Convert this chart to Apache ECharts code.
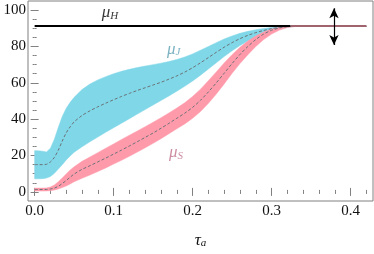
<!DOCTYPE html>
<html><head><meta charset="utf-8">
<script src="https://cdn.jsdelivr.net/npm/echarts@6/dist/echarts.min.js"></script>
<style>html,body{margin:0;padding:0;background:#fff}#c{width:374px;height:254px}</style>
</head><body><div id="c"></div>
<script>
// ---- data ----
const tau = [0, 0.005, 0.01, 0.015, 0.02, 0.025, 0.03, 0.035, 0.04, 0.045, 0.05, 0.06, 0.07, 0.08, 0.09, 0.10, 0.11, 0.12, 0.13, 0.14, 0.15, 0.16, 0.17, 0.18, 0.19, 0.20, 0.21, 0.22, 0.23, 0.24, 0.25, 0.26, 0.27, 0.28, 0.29, 0.30, 0.31, 0.32, 0.33, 0.42];
const muJLo  = [7.2, 7.2, 7.3, 7.6, 8.5, 10.2, 12.6, 15, 17.6, 19.8, 21.8, 24.8, 27.6, 30.2, 32.8, 35.3, 37.8, 40.3, 42.8, 45.3, 47.8, 50.3, 52.8, 55.4, 58.1, 61, 64.2, 67.6, 71, 74.5, 77.6, 80.5, 83, 85.2, 87, 88.5, 89.7, 90.5, 91, 91.1];
const muJMid = [15, 15, 15, 15.2, 16.5, 19, 23, 28, 32.5, 35.8, 38.5, 42, 44.6, 46.8, 48.8, 50.7, 52.5, 54.2, 55.8, 57.3, 58.8, 60.3, 62, 63.8, 65.9, 68.3, 71, 73.9, 76.8, 79.6, 82.1, 84.3, 86.1, 87.6, 88.8, 89.8, 90.5, 90.9, 91.1, 91.1];
const muJHi  = [22.7, 22.6, 22.4, 22, 24, 29, 35.5, 41.5, 46, 49.3, 52, 56.3, 59.3, 61.6, 63.4, 65, 66.3, 67.4, 68.4, 69.2, 70, 70.8, 71.7, 72.8, 74.2, 75.9, 77.9, 80, 82.1, 84.1, 85.8, 87.2, 88.3, 89.2, 89.9, 90.4, 90.8, 91, 91.1, 91.1];
const muSLo  = [0.5, 0.5, 0.5, 0.55, 0.7, 1, 1.6, 2.4, 3.3, 4.4, 5.6, 7.5, 9.3, 11.2, 13.2, 15.3, 17.4, 19.6, 21.9, 24.3, 26.7, 29.3, 32, 34.7, 37.4, 40.5, 44.2, 48.7, 53.8, 59.4, 65.2, 70.6, 75.5, 80, 83.8, 86.8, 89, 90.4, 91, 91.1];
const muSMid = [1.3, 1.3, 1.3, 1.35, 1.6, 2.1, 3.1, 4.6, 6.3, 8.1, 9.8, 12.4, 14.4, 16.5, 18.6, 20.8, 23, 25.3, 27.6, 30, 32.4, 35, 37.7, 40.5, 43.3, 46.5, 50.4, 55, 60, 65.3, 70.6, 75.6, 80, 83.8, 86.8, 88.9, 90.2, 90.9, 91.1, 91.1];
const muSHi  = [2.1, 2.1, 2.1, 2.2, 2.7, 3.8, 5.6, 7.7, 9.9, 12, 13.8, 16.8, 19.2, 21.6, 24, 26.4, 28.8, 31.2, 33.5, 35.9, 38.3, 40.8, 43.4, 46.1, 49, 52.5, 56.5, 61.2, 66, 70.9, 75.5, 79.5, 83, 85.8, 88, 89.6, 90.5, 91, 91.1, 91.1];
const muH = 91.2;
const muHX = [0, 0.324, 0.42];
const arrowX = 0.379, arrowY = [101, 80.8];
const xTickLabels = [0, 0.1, 0.2, 0.3, 0.4];
const xMinorTicks = [0, 0.02, 0.04, 0.06, 0.08, 0.1, 0.12, 0.14, 0.16, 0.18, 0.2, 0.22, 0.24, 0.26, 0.28, 0.3, 0.32, 0.34, 0.36, 0.38, 0.4, 0.42];
const yTickLabels = [0, 20, 40, 60, 80, 100];
const yMinorTicks = [0, 5, 10, 15, 20, 25, 30, 35, 40, 45, 50, 55, 60, 65, 70, 75, 80, 85, 90, 95, 100];

// ---- helpers ----
const pair = (xs, ys) => xs.map((x, i) => [x, ys[i]]);
const XMIN = -0.0084, XMAX = 0.4284, YMIN = -5, YMAX = 105;
const frame = '#808080';
const serif = 'Liberation Serif';
const blue = '#80d7e8', pink = '#ff9aab';

const subRich = (color, size, subSize, drop) => ({
  m: { fontFamily: serif, fontStyle: 'italic', fontSize: size, color: color, verticalAlign: 'top', lineHeight: size },
  s: { fontFamily: serif, fontStyle: 'italic', fontSize: subSize, color: color, verticalAlign: 'bottom', lineHeight: subSize, padding: [drop, 0, 0, 0] }
});

function xAx(pos, ticks, len, withLabels) {
  return {
    type: 'value', min: XMIN, max: XMAX, position: pos, gridIndex: 0,
    axisLine: { show: false }, splitLine: { show: false },
    axisTick: { show: true, inside: true, length: len, customValues: ticks, lineStyle: { color: frame, width: 1 } },
    axisLabel: withLabels ? { show: true, customValues: xTickLabels, formatter: v => v.toFixed(1), margin: 3, color: '#111', fontFamily: serif, fontSize: 15 } : { show: false },
    name: withLabels ? '{m|τ}{s|a}' : '', nameLocation: 'middle', nameGap: 31,
    nameTextStyle: { rich: subRich('#111', 17, 11, 9) }
  };
}
function yAx(pos, ticks, len, withLabels) {
  return {
    type: 'value', min: YMIN, max: YMAX, position: pos, gridIndex: 0,
    axisLine: { show: false }, splitLine: { show: false },
    axisTick: { show: true, inside: true, length: len, customValues: ticks, lineStyle: { color: frame, width: 1 } },
    axisLabel: withLabels ? { show: true, customValues: yTickLabels, margin: 2, color: '#111', fontFamily: serif, fontSize: 15 } : { show: false }
  };
}
function band(lo, hi, color) {
  return { type: 'custom', coordinateSystem: 'cartesian2d', data: [[tau[0], lo[0]]], silent: true, z: 2, clip: true,
    renderItem: (params, api) => {
      const pts = [];
      for (let i = 0; i < tau.length; i++) pts.push(api.coord([tau[i], hi[i]]));
      for (let i = tau.length - 1; i >= 0; i--) pts.push(api.coord([tau[i], lo[i]]));
      return { type: 'polygon', shape: { points: pts }, style: { fill: color, stroke: color, lineWidth: 0.5 } };
    } };
}
function mid(vals) {
  return { type: 'line', data: pair(tau, vals), symbol: 'none', smooth: 0.3, lineStyle: { color: '#6b7378', width: 1, type: [3, 2] }, silent: true, z: 3 };
}
function label(x, y, main, sub, color) {
  return { type: 'scatter', data: [[x, y]], symbolSize: 0, silent: true, z: 6,
    label: { show: true, position: 'inside', formatter: '{m|' + main + '}{s|' + sub + '}', rich: subRich(color, 17, 11, 8) } };
}

const chart = echarts.init(document.getElementById('c'), null, { renderer: 'canvas' });
chart.setOption({
  animation: false,
  backgroundColor: '#fff',
  grid: { left: 28, right: 1, top: 1, bottom: 41, show: true, borderColor: frame, borderWidth: 1, backgroundColor: 'transparent', containLabel: false },
  xAxis: [xAx('bottom', xTickLabels, 4, true), xAx('bottom', xMinorTicks, 2, false), xAx('top', xTickLabels, 4, false), xAx('top', xMinorTicks, 2, false)],
  yAxis: [yAx('left', yTickLabels, 4, true), yAx('left', yMinorTicks, 2, false), yAx('right', yTickLabels, 4, false), yAx('right', yMinorTicks, 2, false)],
  series: [
    band(muJLo, muJHi, blue),
    mid(muJMid),
    band(muSLo, muSHi, pink),
    mid(muSMid),
    { type: 'line', data: [[muHX[0], muH], [muHX[1], muH]], symbol: 'none', lineStyle: { color: '#000', width: 2 }, silent: true, z: 4,
      markLine: { silent: true, symbol: ['arrow', 'arrow'], symbolSize: [7, 10], label: { show: false },
        lineStyle: { color: '#000', width: 1.2, type: 'solid' },
        data: [[{ coord: [arrowX, arrowY[0]] }, { coord: [arrowX, arrowY[1]] }]] } },
    { type: 'line', data: [[muHX[1], muH], [muHX[2], muH]], symbol: 'none', lineStyle: { color: '#a0646f', width: 2 }, silent: true, z: 4 },
    label(0.0954, 98.4, 'μ', 'H', '#000'),
    label(0.176, 78.3, 'μ', 'J', '#5b9db2'),
    label(0.179, 21.5, 'μ', 'S', '#c0708a')
  ]
});
</script>
</body></html>
